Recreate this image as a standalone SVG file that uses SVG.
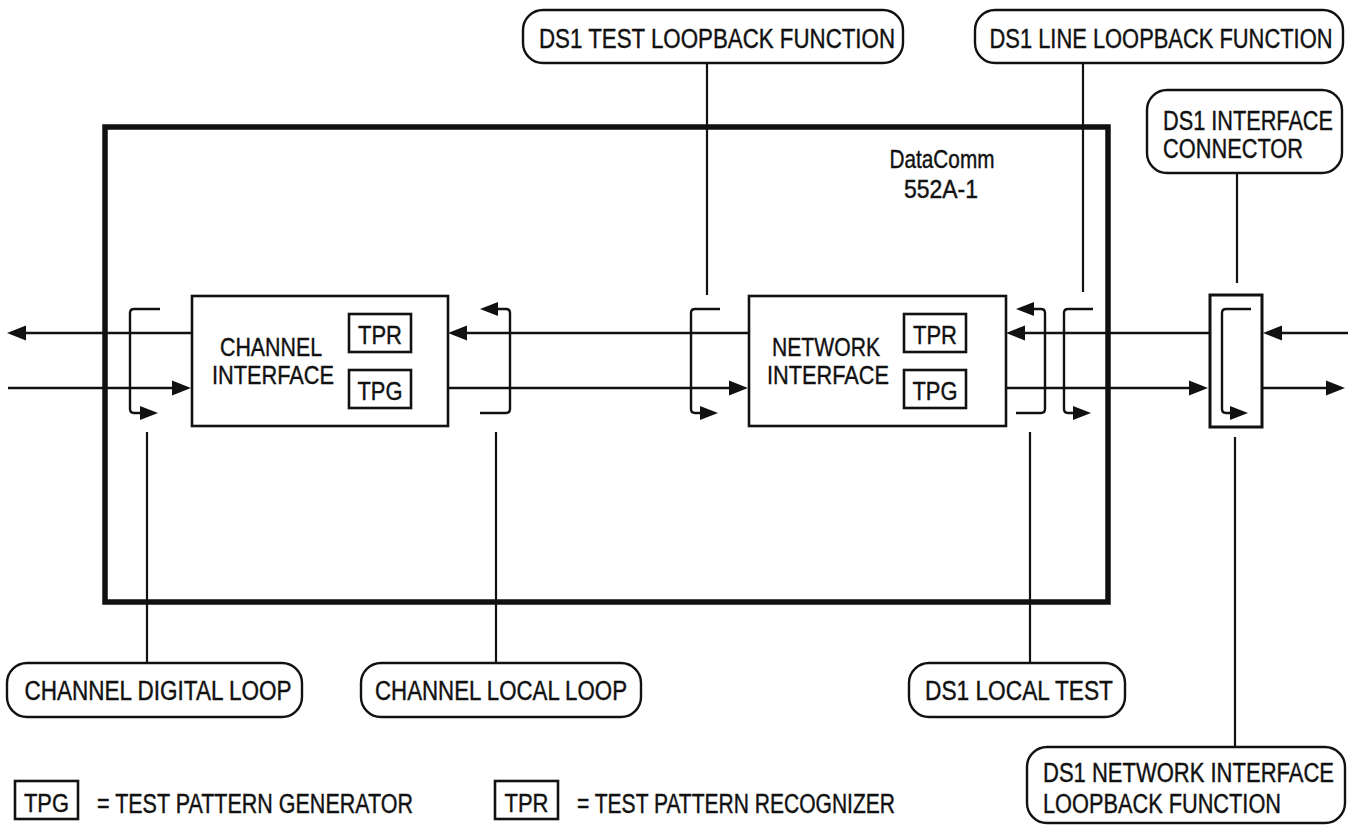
<svg xmlns="http://www.w3.org/2000/svg" width="1348" height="825" viewBox="0 0 1348 825">
<style>
text{font-family:"Liberation Sans Narrow","Arial Narrow","Liberation Sans",Arial,sans-serif;fill:#111;stroke:#111;stroke-width:0.4;}
.t26{font-size:26px;}
.t27{font-size:27px;}
.t25{font-size:25px;}
.mid{text-anchor:middle;}
.box{fill:#fff;stroke:#111;stroke-width:2.6;}
.lbl{fill:#fff;stroke:#111;stroke-width:2.4;}
.ln{fill:none;stroke:#111;stroke-width:2.6;}
.br{fill:none;stroke:#111;stroke-width:2.4;stroke-linejoin:round;}
.ld{fill:none;stroke:#111;stroke-width:2.2;}
.ah{fill:#111;}
</style>
<rect width="1348" height="825" fill="#fff"/>

<g id="leaders">
<line class="ld" x1="707" y1="63" x2="707" y2="295"/>
<line class="ld" x1="1083" y1="63" x2="1083" y2="292"/>
<line class="ld" x1="1237" y1="173" x2="1237" y2="283"/>
<line class="ld" x1="147" y1="432" x2="147" y2="663"/>
<line class="ld" x1="496" y1="432" x2="496" y2="663"/>
<line class="ld" x1="1030" y1="432" x2="1030" y2="663"/>
<line class="ld" x1="1235" y1="437" x2="1235" y2="747"/>
</g>

<g id="datacomm-552a-1">
<rect x="105" y="127" width="1003" height="475" fill="none" stroke="#111" stroke-width="5.5"/>
<text class="t25 mid" x="942" y="168" textLength="105" lengthAdjust="spacingAndGlyphs">DataComm</text>
<text class="t25 mid" x="941" y="198" textLength="74" lengthAdjust="spacingAndGlyphs">552A-1</text>
</g>

<g id="connectors">
<line class="ln" x1="192" y1="333" x2="24" y2="333"/>
<polygon class="ah" points="7,333 26,325.5 26,340.5"/>
<line class="ln" x1="8" y1="388" x2="174" y2="388"/>
<polygon class="ah" points="191,388 172,380.5 172,395.5"/>
<line class="ln" x1="749" y1="333" x2="464" y2="333"/>
<polygon class="ah" points="448,333 467,325.5 467,340.5"/>
<line class="ln" x1="448" y1="388" x2="732" y2="388"/>
<polygon class="ah" points="748,388 729,380.5 729,395.5"/>
<line class="ln" x1="1210" y1="333" x2="1022" y2="333"/>
<polygon class="ah" points="1006,333 1025,325.5 1025,340.5"/>
<line class="ln" x1="1006" y1="388" x2="1192" y2="388"/>
<polygon class="ah" points="1208,388 1189,380.5 1189,395.5"/>
<line class="ln" x1="1348" y1="333" x2="1278" y2="333"/>
<polygon class="ah" points="1263,333 1282,325.5 1282,340.5"/>
<line class="ln" x1="1262" y1="388" x2="1328" y2="388"/>
<polygon class="ah" points="1345,388 1326,380.5 1326,395.5"/>

<path class="br" d="M160,309 H134 Q130,309 130,313 V409 Q130,413 134,413 H142"/>
<polygon class="ah" points="158,413 140,406 140,420"/>

<path class="br" d="M496,309 H506 Q510,309 510,313 V409 Q510,413 506,413 H480"/>
<polygon class="ah" points="480,309 498,302 498,316"/>

<path class="br" d="M720,309 H695 Q691,309 691,313 V409 Q691,413 695,413 H702"/>
<polygon class="ah" points="718,413 700,406 700,420"/>

<path class="br" d="M1032,309 H1041 Q1045,309 1045,313 V409 Q1045,413 1041,413 H1016"/>
<polygon class="ah" points="1016,309 1034,302 1034,316"/>

<path class="br" d="M1093,309 H1068 Q1064,309 1064,313 V409 Q1064,413 1068,413 H1075"/>
<polygon class="ah" points="1091,413 1073,406 1073,420"/>
</g>

<g id="channel-interface">
<rect class="box" x="192" y="296" width="256" height="130"/>
<text class="t26 mid" x="271" y="356" textLength="102" lengthAdjust="spacingAndGlyphs">CHANNEL</text>
<text class="t26 mid" x="273" y="384" textLength="122" lengthAdjust="spacingAndGlyphs">INTERFACE</text>
<rect class="box" x="349" y="314" width="62" height="38"/>
<text class="t26 mid" x="380" y="344" textLength="44" lengthAdjust="spacingAndGlyphs">TPR</text>
<rect class="box" x="349" y="370" width="62" height="38"/>
<text class="t26 mid" x="380" y="400" textLength="45" lengthAdjust="spacingAndGlyphs">TPG</text>
</g>

<g id="network-interface">
<rect class="box" x="749" y="296" width="257" height="130"/>
<text class="t26 mid" x="826" y="356" textLength="108" lengthAdjust="spacingAndGlyphs">NETWORK</text>
<text class="t26 mid" x="828" y="384" textLength="122" lengthAdjust="spacingAndGlyphs">INTERFACE</text>
<rect class="box" x="904" y="314" width="62" height="38"/>
<text class="t26 mid" x="935" y="344" textLength="44" lengthAdjust="spacingAndGlyphs">TPR</text>
<rect class="box" x="904" y="370" width="62" height="38"/>
<text class="t26 mid" x="935" y="400" textLength="45" lengthAdjust="spacingAndGlyphs">TPG</text>
</g>

<g id="ds1-interface-connector-box">
<rect x="1210" y="295" width="52" height="132" fill="none" stroke="#111" stroke-width="3"/>
<path class="br" d="M1251,309 H1226 Q1222,309 1222,313 V409 Q1222,413 1226,413 H1232"/>
<polygon class="ah" points="1248,413 1230,406 1230,420"/>
</g>

<g id="label-ds1-test-loopback">
<rect class="lbl" x="523" y="10" width="380" height="53" rx="20"/>
<text class="t27 mid" x="717" y="48" textLength="356" lengthAdjust="spacingAndGlyphs">DS1 TEST LOOPBACK FUNCTION</text>
</g>
<g id="label-ds1-line-loopback">
<rect class="lbl" x="975" y="10" width="368" height="53" rx="20"/>
<text class="t27 mid" x="1161" y="48" textLength="343" lengthAdjust="spacingAndGlyphs">DS1 LINE LOOPBACK FUNCTION</text>
</g>
<g id="label-ds1-interface-connector">
<rect class="lbl" x="1147" y="90" width="195" height="83" rx="20"/>
<text class="t27" x="1163" y="130" textLength="170" lengthAdjust="spacingAndGlyphs">DS1 INTERFACE</text>
<text class="t27" x="1163" y="158" textLength="140" lengthAdjust="spacingAndGlyphs">CONNECTOR</text>
</g>
<g id="label-channel-digital-loop">
<rect class="lbl" x="7" y="663" width="295" height="54" rx="20"/>
<text class="t27 mid" x="158" y="700" textLength="267" lengthAdjust="spacingAndGlyphs">CHANNEL DIGITAL LOOP</text>
</g>
<g id="label-channel-local-loop">
<rect class="lbl" x="361" y="663" width="280" height="54" rx="20"/>
<text class="t27 mid" x="501" y="700" textLength="252" lengthAdjust="spacingAndGlyphs">CHANNEL LOCAL LOOP</text>
</g>
<g id="label-ds1-local-test">
<rect class="lbl" x="909" y="663" width="216" height="54" rx="20"/>
<text class="t27 mid" x="1019" y="700" textLength="188" lengthAdjust="spacingAndGlyphs">DS1 LOCAL TEST</text>
</g>
<g id="label-ds1-network-interface-loopback">
<rect class="lbl" x="1027" y="747" width="318" height="76" rx="20"/>
<text class="t27" x="1043" y="782" textLength="291" lengthAdjust="spacingAndGlyphs">DS1 NETWORK INTERFACE</text>
<text class="t27" x="1043" y="813" textLength="238" lengthAdjust="spacingAndGlyphs">LOOPBACK FUNCTION</text>
</g>

<g id="legend-tpg">
<rect class="box" x="15" y="781" width="63" height="38"/>
<text class="t26 mid" x="46.5" y="812" textLength="45" lengthAdjust="spacingAndGlyphs">TPG</text>
<text class="t27" x="97" y="813" textLength="316" lengthAdjust="spacingAndGlyphs">= TEST PATTERN GENERATOR</text>
</g>
<g id="legend-tpr">
<rect class="box" x="495" y="781" width="63" height="38"/>
<text class="t26 mid" x="526.5" y="812" textLength="44" lengthAdjust="spacingAndGlyphs">TPR</text>
<text class="t27" x="577" y="813" textLength="318" lengthAdjust="spacingAndGlyphs">= TEST PATTERN RECOGNIZER</text>
</g>
</svg>
